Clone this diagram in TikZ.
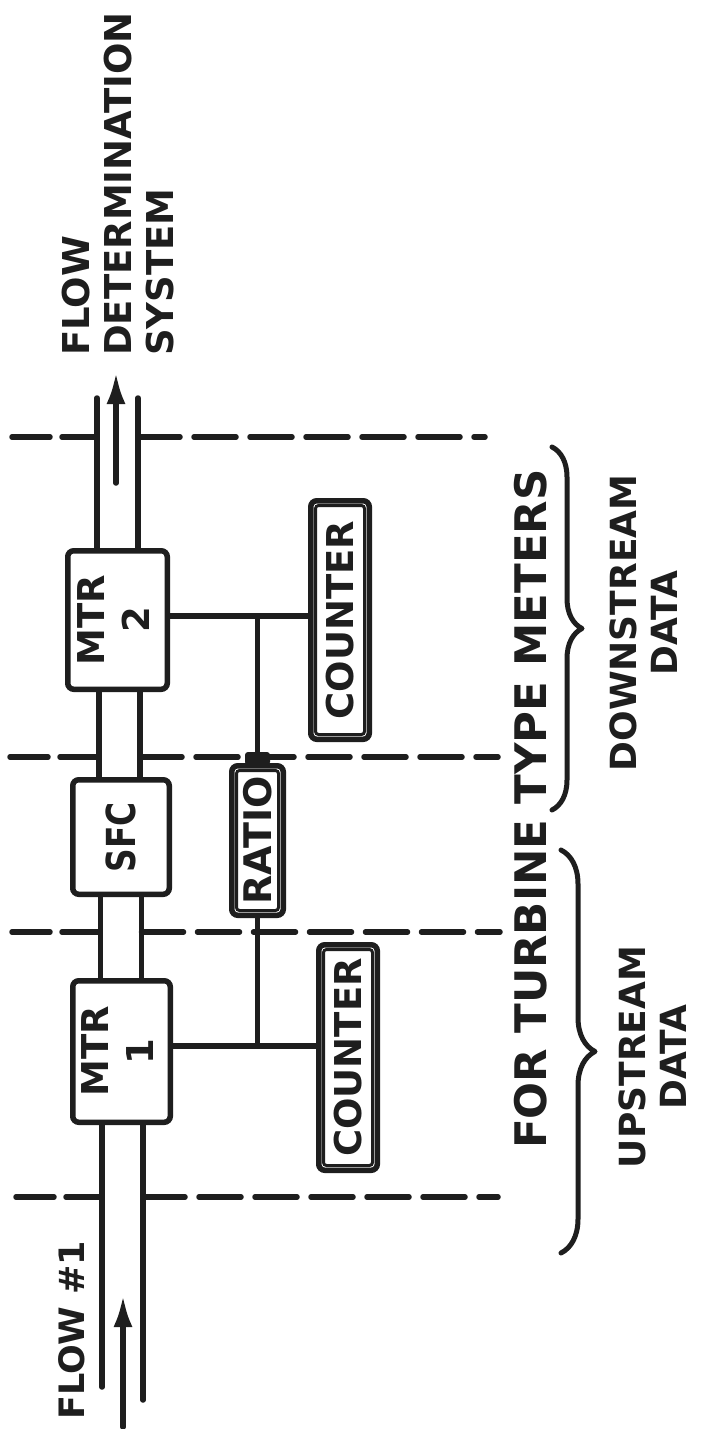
\documentclass[tikz,border=0pt]{standalone}
\usepackage{fontspec}
\setmainfont{DejaVu Sans}
\usetikzlibrary{arrows.meta,decorations.pathreplacing,calc}
\definecolor{inkc}{HTML}{1E1E1E}
\begin{document}
\begin{tikzpicture}[x=1pt,y=-1pt,
  ink/.style={draw=inkc, line width=5.5pt, line cap=round, line join=round},
  box/.style={draw=inkc, line width=5.5pt, rounded corners=6pt, inner sep=0pt, text=inkc,
    font=\bfseries\fontsize{37}{45}\selectfont},
  innerline/.style={draw=inkc, line width=3pt, rounded corners=3pt},
  dashl/.style={ink, dash pattern=on 38pt off 12pt},
  dashr/.style={ink, dash pattern=on 42pt off 14pt},
  arrowline/.style={ink, -{Latex[length=32pt,width=19pt]}},
  lbl/.style={rotate=90, inner sep=0pt, text=inkc},
  bracel/.style={ink, line width=5pt, decorate}
]
\useasboundingbox (0,0) rectangle (704,1429);
\fill[white] (0,0) rectangle (704,1429);

% ---- boxes
\node[box, minimum width=99.5pt, minimum height=138.5pt] (mtr2) at (117.5,620)
  {\rotatebox{90}{\begin{tabular}{@{}c@{}}MTR\\2\end{tabular}}};
\node[box, minimum width=96.5pt, minimum height=114.5pt] (sfc) at (121,837)
  {\rotatebox{90}{\fontsize{40}{45}\selectfont\scalebox{0.82}[1]{SFC}}};
\node[box, minimum width=97.5pt, minimum height=141.5pt] (mtr1) at (121.5,1051.5)
  {\rotatebox{90}{\begin{tabular}{@{}c@{}}MTR\\1\end{tabular}}};
\node[box, minimum width=51.5pt, minimum height=149.5pt] (ratio) at (257.5,840.5)
  {\rotatebox{90}{\fontsize{38}{45}\selectfont RATIO}};
\node[box, minimum width=58.5pt, minimum height=238.5pt] (cnt2) at (340,620)
  {\rotatebox{90}{\fontsize{37}{45}\selectfont COUNTER}};
\node[box, minimum width=58.5pt, minimum height=225.5pt] (cnt1) at (348,1057.5)
  {\rotatebox{90}{\fontsize{37}{45}\selectfont COUNTER}};
% inner frames of the double-bordered boxes
\foreach \b in {ratio,cnt2,cnt1}{
  \draw[innerline] ($(\b.north west)+(7.5,7.5)$) rectangle ($(\b.south east)+(-7.5,-7.5)$);
}

% ---- pipe
\coordinate (pTL) at (97,398);
\coordinate (pTR) at (138,398);
\coordinate (pBL) at (102,1387);
\coordinate (pBR) at (143,1400);
\coordinate (x2l) at (99,0);
\coordinate (x2r) at (140,0);
\coordinate (x3l) at (100.5,0);
\coordinate (x3r) at (141.5,0);
\draw[ink] (pTL) -- (pTL |- mtr2.north);
\draw[ink] (pTR) -- (pTR |- mtr2.north);
\draw[ink] (x2l |- mtr2.south) -- (x2l |- sfc.north);
\draw[ink] (x2r |- mtr2.south) -- (x2r |- sfc.north);
\draw[ink] (x3l |- sfc.south) -- (x3l |- mtr1.north);
\draw[ink] (x3r |- sfc.south) -- (x3r |- mtr1.north);
\draw[ink] (pBL |- mtr1.south) -- (pBL);
\draw[ink] (pBR |- mtr1.south) -- (pBR);

% ---- flow arrows
\coordinate (aT0) at (116,483);
\coordinate (aT1) at (116,372);
\coordinate (aB0) at (123,1427);
\coordinate (aB1) at (123,1295);
\draw[arrowline] (aT0) -- (aT1);
\draw[arrowline] (aB0) -- (aB1);

% ---- signal connectors
\coordinate (j2) at (0,616);
\coordinate (j1) at (0,1046);
\draw[ink] (mtr2.east |- j2) -- (cnt2.west |- j2);
\draw[ink] (ratio.north) -- (ratio.north |- j2);
\draw[ink] (mtr1.east |- j1) -- (cnt1.west |- j1);
\draw[ink] (ratio.south) -- (ratio.south |- j1);
\fill[inkc, rounded corners=3pt] (245,752) rectangle (270,765);

% ---- dashed section lines
\draw[dashl] (12,437) -- (97,437);
\draw[dashr] (138,437) -- (485,437);
\draw[dashl] (10,757) -- (99,757);
\draw[dashr] (140,757) -- (498,757);
\draw[dashl] (12,932) -- (100.5,932);
\draw[dashr] (141.5,932) -- (500,932);
\draw[dashl] (16,1197) -- (102,1197);
\draw[dashr] (143,1197) -- (498,1197);

% ---- braces
\draw[bracel, decoration={brace, amplitude=30pt}] (552,447) -- (552,810);
\draw[bracel, decoration={brace, amplitude=34pt}] (561,850) -- (561,1253);

% ---- labels
\node[lbl, align=left, anchor=north west, font=\bfseries\fontsize{37}{42}\selectfont] (fds)
  at (62,356) {FLOW\\DETERMINATION\\SYSTEM};
\node[lbl, anchor=west, font=\bfseries\fontsize{35}{42}\selectfont] (flow1)
  at (72,1420) {FLOW \#1};
\node[lbl, anchor=west, font=\bfseries\fontsize{43.5}{50}\selectfont] (ftt)
  at (531,1149) {FOR TURBINE TYPE METERS};
\node[lbl, align=center, font=\bfseries\fontsize{36}{41}\selectfont] (dns)
  at (644,623) {DOWNSTREAM\\DATA};
\node[lbl, align=center, font=\bfseries\fontsize{36}{41}\selectfont] (ups)
  at (653,1057) {UPSTREAM\\DATA};
\end{tikzpicture}
\end{document}
